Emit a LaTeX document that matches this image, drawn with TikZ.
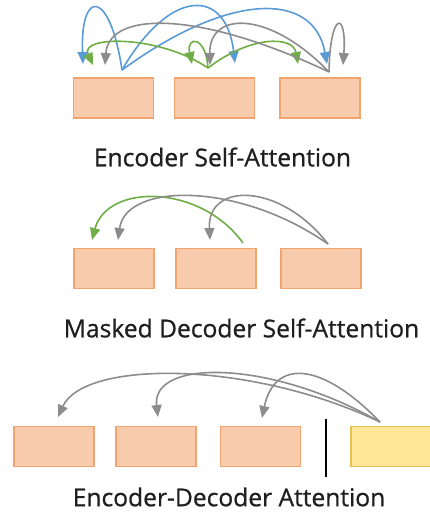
\documentclass[tikz,border=0pt]{standalone}
\usepackage{fontspec}
\setmainfont{Open Sans}
\newfontfamily\capfont[FakeBold=0.8]{Open Sans}
\usetikzlibrary{arrows.meta}

\definecolor{boxfill}{HTML}{F8CBAD}
\definecolor{boxline}{HTML}{F2A46E}
\definecolor{decfill}{HTML}{FFE699}
\definecolor{decline}{HTML}{E6C34E}
\definecolor{attblue}{HTML}{5B9BD5}
\definecolor{attgreen}{HTML}{70AD47}
\definecolor{attgrey}{HTML}{8C8C8C}

\tikzset{
  token/.style={draw=boxline, fill=boxfill, line width=1.3pt, minimum width=80pt, minimum height=40pt, inner sep=0pt},
  dectoken/.style={token, draw=decline, fill=decfill},
  caption/.style={font=\capfont\fontsize{24.6}{28}\selectfont, text=black!88, inner sep=0pt},
  att/.style={->, line width=1.6pt},
}

\begin{document}
\begin{tikzpicture}[x=1pt, y=-1pt, >={Triangle[length=12pt, width=10pt]}]
  \useasboundingbox (0,0) rectangle (429,512);

  % encoder self-attention
  \node[token] (e1) at (113.5,98) {};
  \node[token] (e2) at (214.5,98) {};
  \node[token] (e3) at (320,98) {};
  \node[caption] (ecap) at (222.5,157) {Encoder Self-Attention};
  \coordinate (es1) at (122,70);
  \coordinate (es2) at (208,68);
  \coordinate (es3) at (329,72);
  \coordinate (eb1) at (83,64);  \coordinate (eg1) at (93,65);  \coordinate (ek1) at (105,65);
  \coordinate (eg2) at (192,64); \coordinate (ek2) at (210,65); \coordinate (eb2) at (235,63);
  \coordinate (eg3) at (298,64); \coordinate (eb3) at (327,64); \coordinate (ek3) at (343,65);
  \draw[att, attblue] (es1) .. controls (110,-11.5) and (80,-11.5) .. (eb1);
  \draw[att, attblue] (es1) .. controls (170,-12.7) and (226,-12.7) .. (eb2);
  \draw[att, attblue] (es1) .. controls (230,-8.8) and (314,-8.8) .. (eb3);
  \draw[att, attgreen] (es2) .. controls (160,35) and (79,35) .. (eg1);
  \draw[att, attgreen] (es2) .. controls (206,35.5) and (186,35.5) .. (eg2);
  \draw[att, attgreen] (es2) .. controls (250,35.5) and (293,35.5) .. (eg3);
  \draw[att, attgrey] (es3) .. controls (200,10.5) and (109,10.5) .. (ek1);
  \draw[att, attgrey] (es3) .. controls (270,10.5) and (209,10.5) .. (ek2);
  \draw[att, attgrey] (es3) .. controls (330,10.5) and (347,10.5) .. (ek3);

  % masked decoder self-attention
  \node[token] (m1) at (114,268.5) {};
  \node[token] (m2) at (216,268.5) {};
  \node[token] (m3) at (321,268.5) {};
  \node[caption] (mcap) at (241.5,328) {Masked Decoder Self-Attention};
  \coordinate (ms2) at (243,243);
  \coordinate (ms3) at (328,244);
  \coordinate (mg1) at (92,240);
  \coordinate (mk1) at (118,240);
  \coordinate (mk2) at (210,240);
  \draw[att, attgreen] (ms2) .. controls (200,183.5) and (107,183.5) .. (mg1);
  \draw[att, attgrey] (ms3) .. controls (240,182) and (126,182) .. (mk1);
  \draw[att, attgrey] (ms3) .. controls (280,182) and (207,182) .. (mk2);

  % encoder-decoder attention
  \node[token] (x1) at (54,446.5) {};
  \node[token] (x2) at (156,446.5) {};
  \node[token] (x3) at (260.5,446.5) {};
  \node[dectoken] (y1) at (391,446.5) {};
  \coordinate (cut top) at (326,419);
  \coordinate (cut bot) at (326,477);
  \draw[line width=1.3pt] (cut top) -- (cut bot);
  \node[caption] (xcap) at (229,497) {Encoder-Decoder Attention};
  \coordinate (ys) at (380,422);
  \coordinate (xk1) at (58,417);
  \coordinate (xk2) at (158,417);
  \coordinate (xk3) at (262,418);
  \draw[att, attgrey] (ys) .. controls (250,360) and (84,360) .. (xk1);
  \draw[att, attgrey] (ys) .. controls (270,359) and (151,359) .. (xk2);
  \draw[att, attgrey] (ys) .. controls (320,360) and (274,360) .. (xk3);
\end{tikzpicture}
\end{document}
